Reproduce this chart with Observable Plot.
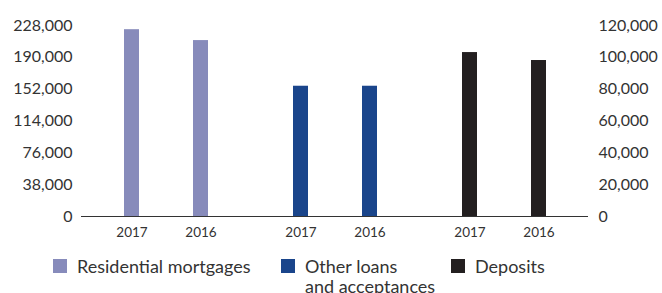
<!DOCTYPE html>
<html>
<head>
<meta charset="utf-8">
<script src="https://cdn.jsdelivr.net/npm/d3@7"></script>
<script src="https://cdn.jsdelivr.net/npm/@observablehq/plot@0.6"></script>
<style>
  body { margin: 0; background: #fff; font-family: Lato, "Noto Sans", sans-serif; }
  #wrap { position: relative; width: 662px; height: 293px; overflow: hidden; }
  #chart svg { display: block; }
  .lg { position: absolute; top: 256px; display: flex; align-items: flex-start; font-size: 18px; line-height: 20px; color: #333; }
  .sw { width: 14px; height: 14px; margin-top: 3px; margin-right: 10px; flex: none; }
</style>
</head>
<body>
<div id="wrap">
  <div id="chart"></div>
  <div id="legend"></div>
</div>
<script>
const groups = ["Residential mortgages", "Other loans and acceptances", "Deposits"];
const legendLabels = ["Residential mortgages", "Other loans<br>and acceptances", "Deposits"];
const years = ["2017", "2016"];
const residential = [223000, 210000];      // left axis
const otherLoans = [155500, 155500];       // left axis
const deposits = [103000, 98000];          // right axis
const leftTicks = [0, 38000, 76000, 114000, 152000, 190000, 228000];
const rightTicks = [0, 20000, 40000, 60000, 80000, 100000, 120000];
const colors = ["#878bbb", "#1a458b", "#231f20"];

const leftMax = 228000, rightMax = 120000;
const k = leftMax / rightMax;

const rows = [];
years.forEach((yr, i) => {
  rows.push({group: groups[0], year: yr, v: residential[i]});
  rows.push({group: groups[1], year: yr, v: otherLoans[i]});
  rows.push({group: groups[2], year: yr, v: deposits[i] * k});
});

const fmt = d3.format(",");
const chart = Plot.plot({
  width: 662,
  height: 250,
  marginLeft: 80,
  marginRight: 74,
  marginTop: 25,
  marginBottom: 34,
  style: {fontFamily: "Lato, 'Noto Sans', sans-serif", color: "#333", background: "#fff"},
  fx: {domain: groups, padding: 0, axis: null, label: null},
  x: {domain: years, paddingInner: 0.786, paddingOuter: 0.602, axis: null, label: null},
  y: {domain: [0, leftMax], axis: null},
  color: {domain: groups, range: colors},
  marks: [
    Plot.barY(rows, {fx: "group", x: "year", y: "v", fill: "group"}),
    Plot.ruleY([0], {stroke: "#333", strokeWidth: 1}),
    Plot.axisX({tickSize: 0, tickPadding: 11, fontSize: 13.5, label: null}),
    Plot.axisY(leftTicks, {anchor: "left", tickSize: 0, tickPadding: 9, fontSize: 16, tickFormat: fmt, label: null}),
    Plot.axisY(rightTicks.map(v => v * k), {anchor: "right", tickSize: 0, tickPadding: 10, fontSize: 16, tickFormat: d => fmt(Math.round(d / k)), label: null})
  ]
});
document.getElementById("chart").appendChild(chart);

const lefts = [53, 281, 451];
const legend = document.getElementById("legend");
groups.forEach((g, i) => {
  const item = document.createElement("div");
  item.className = "lg";
  item.style.left = lefts[i] + "px";
  item.innerHTML = `<div class="sw" style="background:${colors[i]}"></div><div>${legendLabels[i]}</div>`;
  legend.appendChild(item);
});
</script>
</body>
</html>
